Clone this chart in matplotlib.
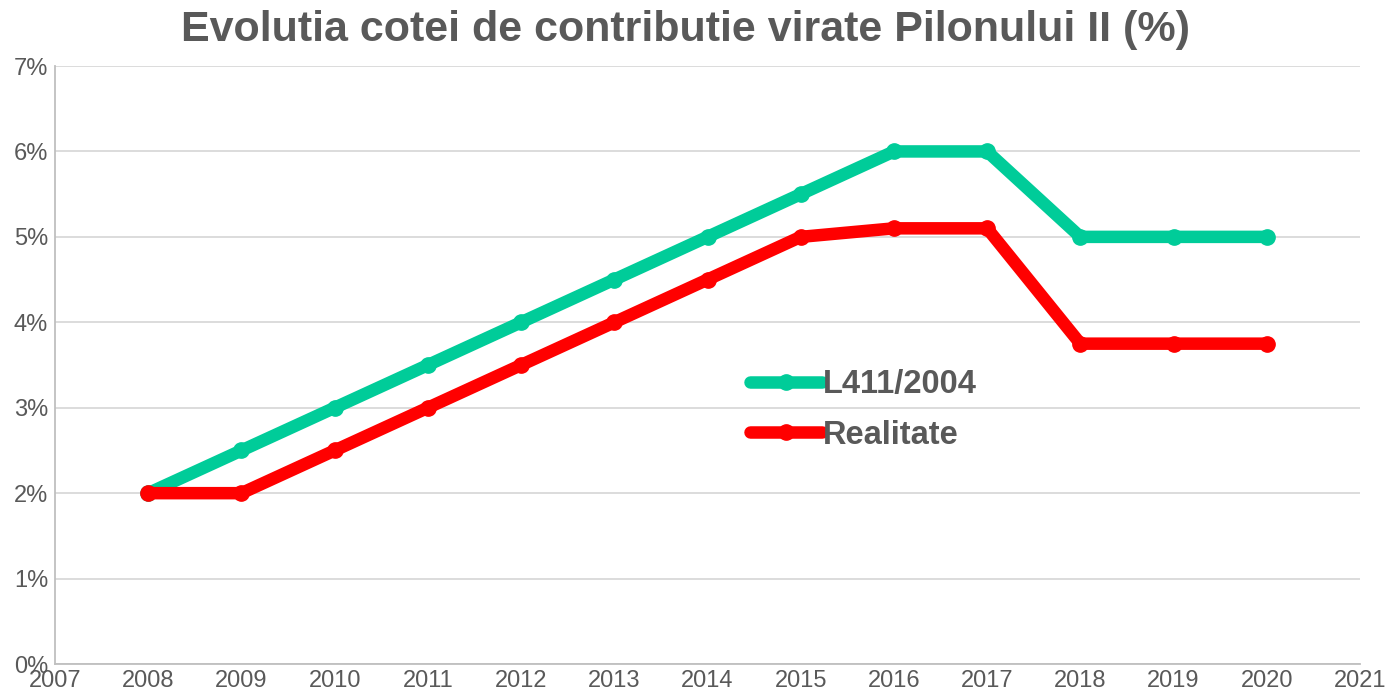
import matplotlib
matplotlib.use("Agg")
import matplotlib.pyplot as plt
from matplotlib.ticker import FuncFormatter

plt.rcParams['font.family'] = ['Liberation Sans', 'DejaVu Sans']

ani = [2008, 2009, 2010, 2011, 2012, 2013, 2014, 2015, 2016, 2017, 2018, 2019, 2020]
lege = [2, 2.5, 3, 3.5, 4, 4.5, 5, 5.5, 6, 6, 5, 5, 5]
realitate = [2, 2, 2.5, 3, 3.5, 4, 4.5, 5, 5.1, 5.1, 3.75, 3.75, 3.75]

gri = '#595959'

fig = plt.figure(figsize=(13.87, 6.97), dpi=100)
ax = fig.add_axes([0.0397, 0.0473, 0.9408, 0.858])

ax.plot(ani, lege, 'o-', color='#00cc99', lw=9, ms=11, label='L411/2004',
        solid_capstyle='round', solid_joinstyle='round')
ax.plot(ani, realitate, 'o-', color='#ff0000', lw=9, ms=11, label='Realitate',
        solid_capstyle='round', solid_joinstyle='round')

ax.set_xlim(2007, 2021)
ax.set_ylim(0, 7)
ax.set_xticks(range(2007, 2022))
ax.set_yticks(range(0, 8))
ax.yaxis.set_major_formatter(FuncFormatter(lambda v, p: '%d%%' % v))
ax.tick_params(length=0, labelsize=17, colors=gri)
ax.tick_params(axis='y', pad=5)
ax.tick_params(axis='x', pad=4)

ax.grid(axis='y', color='#d9d9d9', lw=1.3)
ax.set_axisbelow(True)
for s in ['top', 'right']:
    ax.spines[s].set_visible(False)
for s in ['left', 'bottom']:
    ax.spines[s].set_color('#bfbfbf')
    ax.spines[s].set_linewidth(1.3)

fig.text(0.494, 0.985, 'Evolutia cotei de contributie virate Pilonului II (%)',
         fontsize=31, fontweight='bold', color=gri, ha='center', va='top')

leg = ax.legend(loc='upper left', bbox_to_anchor=(0.51, 0.542), frameon=False,
                handlelength=2.2, handletextpad=0.05, labelspacing=0.6,
                prop={'size': 23.5, 'weight': 'bold'})
for t in leg.get_texts():
    t.set_color(gri)

fig.savefig('out.png', dpi=100)
